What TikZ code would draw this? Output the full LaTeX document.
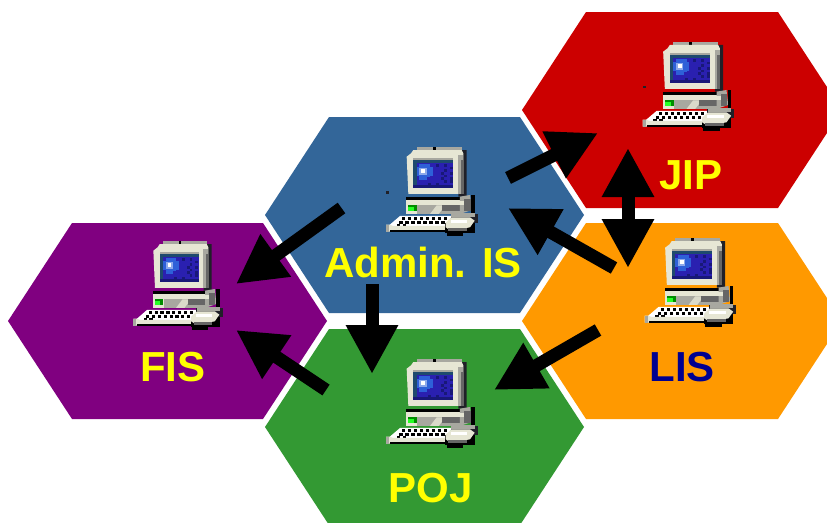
\documentclass[tikz,border=0pt]{standalone}
\usepackage{fontspec}
\setmainfont{Liberation Sans}
\usetikzlibrary{arrows.meta}
\definecolor{hexblue}{HTML}{336699}
\definecolor{hexred}{HTML}{CC0000}
\definecolor{hexorange}{HTML}{FF9900}
\definecolor{hexpurple}{HTML}{800080}
\definecolor{hexgreen}{HTML}{339933}
\definecolor{labyellow}{HTML}{FFFF00}
\definecolor{labnavy}{HTML}{000090}
\definecolor{cream}{HTML}{E6E6D4}
\definecolor{midgray}{HTML}{A8A8A0}
\definecolor{darkgray}{HTML}{666666}
\definecolor{iconshadow}{HTML}{202028}
\definecolor{scrframe}{HTML}{1E4A6E}
\definecolor{scrblue}{HTML}{2A20B0}
\definecolor{scrdark}{HTML}{181878}
\definecolor{glow}{HTML}{2E60D8}
\tikzset{
  hexshape/.style={draw=none},
  lab/.style={font=\fontsize{42}{42}\selectfont\bfseries,anchor=base,inner sep=0pt},
  bigarrow/.style={line width=13pt,draw=black,-{Triangle[length=49pt,width=49pt]}},
  bothways/.style={line width=13pt,draw=black,{Triangle[length=49pt,width=49pt]}-{Triangle[length=49pt,width=49pt]}},
  computer/.pic={
    \begin{scope}[x=0.3333pt,y=-0.3333pt]
      % monitor
      \fill[midgray] (110,22) rectangle (245,30);
      \fill[black] (158,22) rectangle (167,30);
      \fill[iconshadow] (245,30) -- (260,30) -- (260,170) -- (235,170) -- cycle;
      \fill[cream] (80,50) -- (93,40) -- (100,30) -- (245,30) -- (250,40) -- (250,162) -- (85,162) -- cycle;
      \fill[midgray] (234,46) rectangle (250,162);
      \fill[darkgray] (242,60) rectangle (250,162);
      \fill[scrframe] (100,53) rectangle (220,70);
      \fill[midgray] (100,53) rectangle (220,60);
      \fill[scrframe] (100,60) rectangle (110,144);
      \fill[scrblue] (110,68) rectangle (220,136);
      \fill[scrdark] (100,136) rectangle (220,144);
      \fill[glow] (118,72) rectangle (150,120);
      \fill[glow] (110,80) rectangle (158,108);
      \fill[scrblue] (110,112) rectangle (118,120);
      \fill[scrblue] (142,112) rectangle (150,120);
      \fill[white!45!glow] (118,84) rectangle (140,104);
      \fill[white] (124,88) rectangle (136,100);
      \foreach \i/\j in {168/72,192/72,210/80,192/88,210/96,184/96,192/104,210/112,184/112,192/120,210/120,168/128,144/128}
        \fill[scrdark] (\i,\j) rectangle +(9,8);
      % base
      \fill[black] (78,170) rectangle (250,181);
      \fill[cream] (78,181) rectangle (240,222);
      \fill[midgray] (112,196) -- (240,196) -- (240,222) -- (112,222) -- cycle;
      \fill[cream!80!midgray] (150,222) -- (170,196) -- (196,196) -- (176,222) -- cycle;
      \fill[darkgray] (186,196) rectangle (240,212);
      \fill[green!55!black] (84,195) rectangle (111,213);
      \fill[green!85!white] (84,201) rectangle (102,213);
      % right side of base
      \fill[midgray] (240,170) -- (270,165) -- (275,210) -- (240,222) -- cycle;
      \fill[cream] (234,184) rectangle (252,196);
      \fill[darkgray] (252,176) rectangle (272,214);
      \fill[black] (274,165) rectangle (285,222);
      % keyboard
      \fill[white] (20,262) -- (60,228) -- (215,228) -- (200,262) -- cycle;
      \foreach \i/\j in {66/230,84/230,102/230,120/230,138/230,156/230,174/230,192/230,58/242,76/242,94/242,112/242,130/242,148/242,166/242,184/242,50/253,68/253}
        \fill[black] (\i,\j) rectangle +(10,9);
      \fill[cream] (18,254) -- (28,254) -- (40,258) -- (200,258) -- (200,270) -- (18,275) -- cycle;
      \fill[midgray] (18,254) rectangle (27,275);
      \fill[black] (30,270) rectangle (200,277);
      % mouse
      \fill[iconshadow] (212,222) rectangle (294,250);
      \fill[black] (195,250) rectangle (285,278);
      \fill[black] (200,278) rectangle (250,288);
      \fill[midgray] (214,220) rectangle (285,232);
      \fill[cream] (215,232) -- (270,232) -- (284,242) -- (270,262) -- (212,272) -- (197,262) -- (197,248) -- cycle;
      \fill[white] (212,240) rectangle (262,250);
      \fill[darkgray] (205,264) rectangle (262,273);
    \end{scope}
  },
  speck/.style={fill=iconshadow}
}
\begin{document}
\begin{tikzpicture}[x=1pt,y=-1pt]
  \useasboundingbox (0,0) rectangle (827,522);
  \fill[white] (0,0) rectangle (827,522);
  \clip (0,0) rectangle (827,522);
  % hexagons
  \fill[hexshape,hexred]    (522,110) -- (586,12)  -- (778,12)  -- (842,110) -- (778,208) -- (586,208) -- cycle;
  \fill[hexshape,hexorange] (522,321) -- (586,223) -- (778,223) -- (842,321) -- (778,419) -- (586,419) -- cycle;
  \fill[hexshape,hexblue]   (265,215) -- (329,117) -- (520,117) -- (584,215) -- (520,313) -- (329,313) -- cycle;
  \fill[hexshape,hexpurple] (8,321)   -- (72,223)  -- (263,223) -- (327,321) -- (263,419) -- (72,419)  -- cycle;
  \fill[hexshape,hexgreen]  (265,427) -- (329,329) -- (520,329) -- (584,427) -- (520,525) -- (329,525) -- cycle;
  % computers
  \pic at (380,140) {computer};
  \pic at (636.5,35)  {computer};
  \pic at (638.5,231) {computer};
  \pic[xscale=.97] at (127.5,234) {computer};
  \pic at (380,352) {computer};
  \fill[speck] (386,191) rectangle +(3,3);
  \fill[speck] (643,86) rectangle +(3,2);
  % labels
  \node[lab,text=labyellow] (admin) at (423,277) {Admin. IS};
  \node[lab,text=labyellow] (jip)   at (691,189) {JIP};
  \node[lab,text=labnavy]   (lis)   at (682,381) {LIS};
  \node[lab,text=labyellow] (fis)   at (173,381) {FIS};
  \node[lab,text=labyellow] (poj)   at (431,502) {POJ};
  % connector ends
  \coordinate (aj0) at (508,178); \coordinate (aj1) at (598,133);
  \coordinate (la0) at (614,268); \coordinate (la1) at (508,208);
  \coordinate (jl0) at (628,148); \coordinate (jl1) at (628,268);
  \coordinate (af0) at (341.5,208); \coordinate (af1) at (236,284);
  \coordinate (ap0) at (372,284); \coordinate (ap1) at (372,374);
  \coordinate (pf0) at (326,390); \coordinate (pf1) at (236,330);
  \coordinate (lp0) at (598,330); \coordinate (lp1) at (494,390);
  \draw[bigarrow] (aj0) -- (aj1);
  \draw[bigarrow] (la0) -- (la1);
  \draw[bothways] (jl0) -- (jl1);
  \draw[bigarrow] (af0) -- (af1);
  \draw[bigarrow] (ap0) -- (ap1);
  \draw[bigarrow] (pf0) -- (pf1);
  \draw[bigarrow] (lp0) -- (lp1);
\end{tikzpicture}
\end{document}
